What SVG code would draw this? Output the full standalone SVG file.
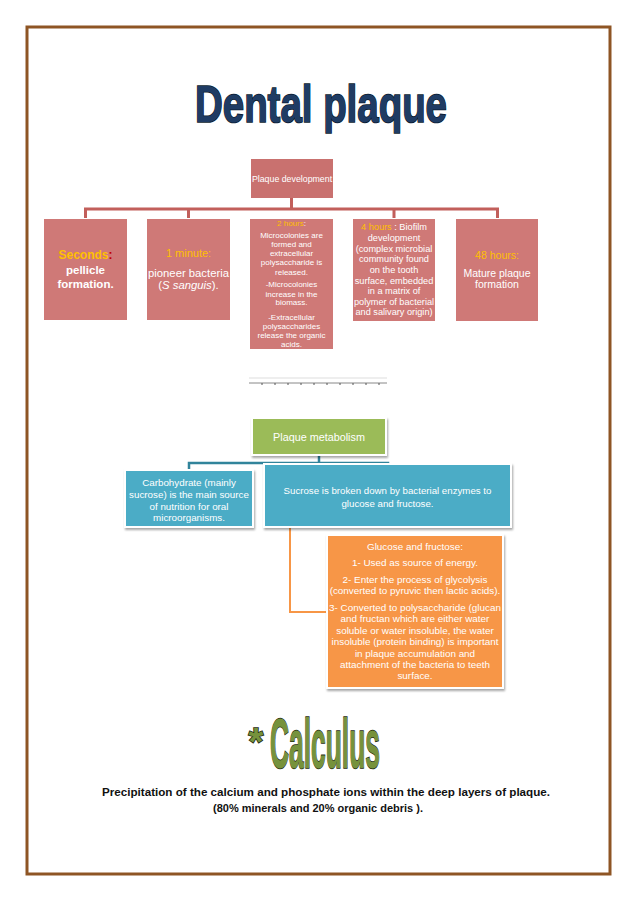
<svg xmlns="http://www.w3.org/2000/svg" width="638" height="903" viewBox="0 0 638 903">
<defs>
<filter id="sh" x="-10%" y="-10%" width="130%" height="130%">
<feDropShadow dx="1" dy="2" stdDeviation="1.2" flood-color="#000" flood-opacity="0.35"/>
</filter>
</defs>
<style>
text{font-family:"Liberation Sans",Arial,sans-serif;text-anchor:middle}
.pink{fill:#cf7977}
.pinkc{fill:none;stroke:#c25f5b;stroke-width:3}
.w{fill:#fff}
.o{fill:#ffc000}
.smart{stroke:#fff;stroke-width:2;filter:url(#sh)}
.blc{fill:none;stroke:#31849b;stroke-width:2.5}
.orc{fill:none;stroke:#f79646;stroke-width:2}
.wa{font-weight:bold;stroke-width:1.6;paint-order:stroke}
</style>
<rect x="0" y="0" width="638" height="903" fill="#fff"/>
<rect x="27" y="27" width="583" height="847" fill="none" stroke="#8e5524" stroke-width="3"/>

<g id="title">
<text class="wa" x="321" y="122" font-size="52" fill="#1f3c64" stroke="#0b1a2c" textLength="252" lengthAdjust="spacingAndGlyphs">Dental plaque</text>
</g>

<g id="connectors">
<path class="pinkc" d="M291.5 198V209M85.5 218V209H497.5V218M188.5 209V218M394 209V218"/>
<path class="blc" d="M319 455V463M189 470V463H388V464"/>
<path class="orc" d="M290 527V612H327"/>
</g>

<g id="plaque-development">
<rect x="251" y="159" width="82" height="39" fill="#c9716f"/>
<text class="w" x="292" y="182" font-size="8.8">Plaque development</text>
</g>

<g id="seconds">
<rect class="pink" x="44" y="219" width="83" height="101"/>
<text x="85.5" y="259" font-size="12" font-weight="bold"><tspan class="o">Seconds</tspan><tspan fill="#c00000">:</tspan></text>
<text class="w" x="85.5" y="274" font-size="11.5" font-weight="bold">pellicle</text>
<text class="w" x="85.5" y="288" font-size="11.5" font-weight="bold">formation.</text>
</g>

<g id="one-minute">
<rect class="pink" x="147" y="219" width="83" height="101"/>
<text class="o" x="188.5" y="257" font-size="11">1 minute:</text>
<text class="w" x="188.5" y="277" font-size="11.3">pioneer bacteria</text>
<text class="w" x="188.5" y="289" font-size="11.3">(<tspan font-style="italic">S sanguis</tspan>).</text>
</g>

<g id="two-hours">
<rect class="pink" x="250" y="219" width="83" height="130"/>
<g font-size="8">
<text x="291.5" y="226"><tspan class="o">2 hours</tspan><tspan class="w">:</tspan></text>
<text class="w" x="291.5" y="238">Microcolonies are</text>
<text class="w" x="291.5" y="247">formed and</text>
<text class="w" x="291.5" y="256">extracellular</text>
<text class="w" x="291.5" y="265">polysaccharide is</text>
<text class="w" x="291.5" y="275">released.</text>
<text class="w" x="291.5" y="287">-Microcolonies</text>
<text class="w" x="291.5" y="297">increase in the</text>
<text class="w" x="291.5" y="305">biomass.</text>
<text class="w" x="291.5" y="320">-Extracellular</text>
<text class="w" x="291.5" y="329">polysaccharides</text>
<text class="w" x="291.5" y="338">release the organic</text>
<text class="w" x="291.5" y="347">acids.</text>
</g>
</g>

<g id="four-hours">
<rect class="pink" x="353" y="219" width="82" height="102"/>
<g font-size="9.2">
<text x="394" y="230"><tspan class="o">4 hours</tspan><tspan class="w"> : Biofilm</tspan></text>
<text class="w" x="394" y="241">development</text>
<text class="w" x="394" y="252">(complex microbial</text>
<text class="w" x="394" y="262">community found</text>
<text class="w" x="394" y="273">on the tooth</text>
<text class="w" x="394" y="284">surface, embedded</text>
<text class="w" x="394" y="294">in a matrix of</text>
<text class="w" x="394" y="305">polymer of bacterial</text>
<text class="w" x="394" y="315">and salivary origin)</text>
</g>
</g>

<g id="forty-eight-hours">
<rect class="pink" x="456" y="219" width="82" height="102"/>
<text class="o" x="497" y="259" font-size="10.5">48 hours:</text>
<text class="w" x="497" y="277" font-size="10.5">Mature plaque</text>
<text class="w" x="497" y="288" font-size="10.5">formation</text>
</g>

<g id="separator">
<line x1="249" y1="378" x2="387" y2="378" stroke="#ddd" stroke-width="1"/>
<line x1="249" y1="383" x2="387" y2="383" stroke="#888" stroke-width="1"/>
<path d="M262 383v2M275 383v2M288 383v2M301 383v2M314 383v2M327 383v2M340 383v2M353 383v2M366 383v2M379 383v2" stroke="#555" stroke-width="1"/>
</g>

<g id="plaque-metabolism">
<rect class="smart" x="252" y="418" width="134" height="37" fill="#9bbb59"/>
<text class="w" x="319" y="441" font-size="10.8">Plaque metabolism</text>
</g>

<g id="carbohydrate">
<rect class="smart" x="125" y="470" width="128" height="57" fill="#4bacc6"/>
<g font-size="9.8">
<text class="w" x="189" y="486">Carbohydrate (mainly</text>
<text class="w" x="189" y="498">sucrose) is the main source</text>
<text class="w" x="189" y="510">of nutrition for oral</text>
<text class="w" x="189" y="521">microorganisms.</text>
</g>
</g>

<g id="sucrose">
<rect class="smart" x="264" y="464" width="247" height="63" fill="#4bacc6"/>
<g font-size="9.7">
<text class="w" x="387.5" y="494">Sucrose is broken down by bacterial enzymes to</text>
<text class="w" x="387.5" y="507">glucose and fructose.</text>
</g>
</g>

<g id="glucose">
<rect class="smart" x="327" y="535" width="176" height="153" fill="#f79646"/>
<g font-size="9.9">
<text class="w" x="415" y="550">Glucose and fructose:</text>
<text class="w" x="415" y="566">1- Used as source of energy.</text>
<text class="w" x="415" y="583">2- Enter the process of glycolysis</text>
<text class="w" x="415" y="594">(converted to pyruvic then lactic acids).</text>
<text class="w" x="415" y="611">3- Converted to polysaccharide (glucan</text>
<text class="w" x="415" y="622">and fructan which are either water</text>
<text class="w" x="415" y="634">soluble or water insoluble, the water</text>
<text class="w" x="415" y="645">insoluble (protein binding) is important</text>
<text class="w" x="415" y="657">in plaque accumulation and</text>
<text class="w" x="415" y="668">attachment of the bacteria to teeth</text>
<text class="w" x="415" y="679">surface.</text>
</g>
</g>

<g id="calculus">
<text class="wa" x="256" y="755" font-size="38" fill="#76923c" stroke="#1e2a10">*</text>
<text class="wa" x="325" y="768" font-size="70" fill="#76923c" stroke="#1e2a10" textLength="110" lengthAdjust="spacingAndGlyphs">Calculus</text>
<text x="326" y="796" font-size="10.5" font-weight="bold" fill="#111" textLength="448" lengthAdjust="spacingAndGlyphs">Precipitation of the calcium and phosphate ions within the deep layers of plaque.</text>
<text x="318" y="812" font-size="10.5" font-weight="bold" fill="#111" textLength="210" lengthAdjust="spacingAndGlyphs">(80% minerals and 20% organic debris ).</text>
</g>
</svg>
